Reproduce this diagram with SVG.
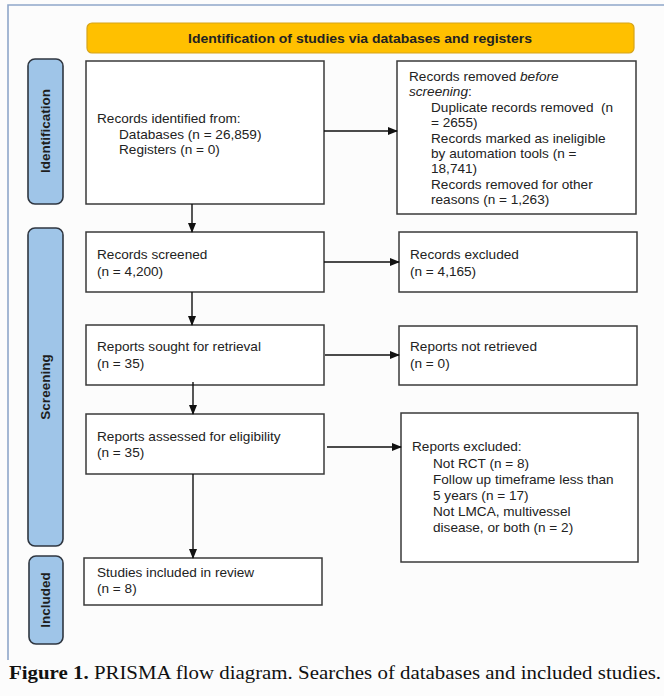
<svg xmlns="http://www.w3.org/2000/svg" width="664" height="696" viewBox="0 0 664 696">
<defs>
<style>
.bg{fill:#fcfcfc}
.frame{fill:none;stroke:#8ea6c9;stroke-width:1.6}
.box{fill:#ffffff;stroke:#3a3a3a;stroke-width:1.5}
.side{fill:#9fc5e8;stroke:#2f3640;stroke-width:1.6}
.head{fill:#ffc000;stroke:#d6a41a;stroke-width:1.2}
.t{font-family:"Liberation Sans",Arial,sans-serif;font-size:13.6px;fill:#222}
.hb{font-family:"Liberation Sans",Arial,sans-serif;font-size:13px;font-weight:bold;fill:#222}
.sl{font-family:"Liberation Sans",Arial,sans-serif;font-size:13.5px;font-weight:bold;fill:#1e1e1e}
.cap{font-family:"Liberation Serif","Times New Roman",serif;font-size:19px;fill:#111}
.ln{stroke:#111;stroke-width:1.4;fill:none}
</style>
<marker id="ah" markerWidth="10" markerHeight="8" refX="9" refY="4" orient="auto" markerUnits="userSpaceOnUse">
<path d="M0,0 L10,4 L0,8 Z" fill="#111"/>
</marker>
</defs>
<rect class="bg" x="0" y="0" width="664" height="696"/>
<path class="frame" d="M8,660 L8,5 L664,5"/>

<g id="header">
<rect class="head" x="87" y="23" width="547" height="30" rx="5"/>
<text class="hb" x="188" y="43" textLength="344" lengthAdjust="spacingAndGlyphs">Identification of studies via databases and registers</text>
</g>

<g id="side-identification">
<rect class="side" x="28" y="59" width="35" height="145" rx="7"/>
<text class="sl" transform="translate(50,131) rotate(-90)" text-anchor="middle">Identification</text>
</g>
<g id="side-screening">
<rect class="side" x="28" y="228" width="35" height="318" rx="7"/>
<text class="sl" transform="translate(50,387) rotate(-90)" text-anchor="middle">Screening</text>
</g>
<g id="side-included">
<rect class="side" x="29" y="556" width="34" height="88" rx="7"/>
<text class="sl" transform="translate(50,600) rotate(-90)" text-anchor="middle">Included</text>
</g>

<g id="records-identified">
<rect class="box" x="86" y="61" width="238" height="143"/>
<text class="t" x="97" y="123">Records identified from:</text>
<text class="t" x="119" y="139">Databases (n = 26,859)</text>
<text class="t" x="119" y="154">Registers (n = 0)</text>
</g>

<g id="records-removed">
<rect class="box" x="397" y="61" width="239" height="153"/>
<text class="t" x="409" y="81">Records removed <tspan font-style="italic">before</tspan></text>
<text class="t" x="409" y="96"><tspan font-style="italic">screening</tspan>:</text>
<text class="t" x="431" y="112" xml:space="preserve">Duplicate records removed  (n</text>
<text class="t" x="431" y="127">= 2655)</text>
<text class="t" x="431" y="143">Records marked as ineligible</text>
<text class="t" x="431" y="158">by automation tools (n =</text>
<text class="t" x="431" y="173">18,741)</text>
<text class="t" x="431" y="189">Records removed for other</text>
<text class="t" x="431" y="204">reasons (n = 1,263)</text>
</g>

<g id="records-screened">
<rect class="box" x="86" y="232" width="238" height="60"/>
<text class="t" x="97" y="259">Records screened</text>
<text class="t" x="97" y="276">(n = 4,200)</text>
</g>

<g id="records-excluded">
<rect class="box" x="399" y="232" width="238" height="60"/>
<text class="t" x="410" y="259">Records excluded</text>
<text class="t" x="410" y="276">(n = 4,165)</text>
</g>

<g id="reports-sought">
<rect class="box" x="86" y="325" width="238" height="60"/>
<text class="t" x="97" y="351">Reports sought for retrieval</text>
<text class="t" x="97" y="368">(n = 35)</text>
</g>

<g id="reports-not-retrieved">
<rect class="box" x="399" y="326" width="238" height="59"/>
<text class="t" x="410" y="351">Reports not retrieved</text>
<text class="t" x="410" y="368">(n = 0)</text>
</g>

<g id="reports-assessed">
<rect class="box" x="86" y="414" width="238" height="60"/>
<text class="t" x="97" y="441">Reports assessed for eligibility</text>
<text class="t" x="97" y="457">(n = 35)</text>
</g>

<g id="reports-excluded">
<rect class="box" x="401" y="413" width="237" height="149"/>
<text class="t" x="412" y="451">Reports excluded:</text>
<text class="t" x="433" y="468">Not RCT (n = 8)</text>
<text class="t" x="433" y="484">Follow up timeframe less than</text>
<text class="t" x="433" y="500">5 years (n = 17)</text>
<text class="t" x="433" y="516">Not LMCA, multivessel</text>
<text class="t" x="433" y="532">disease, or both (n = 2)</text>
</g>

<g id="studies-included">
<rect class="box" x="84" y="558" width="238" height="47"/>
<text class="t" x="97" y="577">Studies included in review</text>
<text class="t" x="97" y="593">(n = 8)</text>
</g>

<g id="connectors">
<line class="ln" x1="324" y1="131" x2="397" y2="131" marker-end="url(#ah)"/>
<line class="ln" x1="192" y1="204" x2="192" y2="232" marker-end="url(#ah)"/>
<line class="ln" x1="324" y1="262" x2="399" y2="262" marker-end="url(#ah)"/>
<line class="ln" x1="192" y1="292" x2="192" y2="325" marker-end="url(#ah)"/>
<line class="ln" x1="325" y1="355" x2="399" y2="355" marker-end="url(#ah)"/>
<line class="ln" x1="193" y1="382" x2="193" y2="414" marker-end="url(#ah)"/>
<line class="ln" x1="327" y1="447" x2="401" y2="447" marker-end="url(#ah)"/>
<line class="ln" x1="193" y1="474" x2="193" y2="558" marker-end="url(#ah)"/>
</g>

<text class="cap" x="9" y="679" textLength="652" lengthAdjust="spacingAndGlyphs"><tspan font-weight="bold">Figure 1.</tspan> PRISMA flow diagram. Searches of databases and included studies.</text>
</svg>
